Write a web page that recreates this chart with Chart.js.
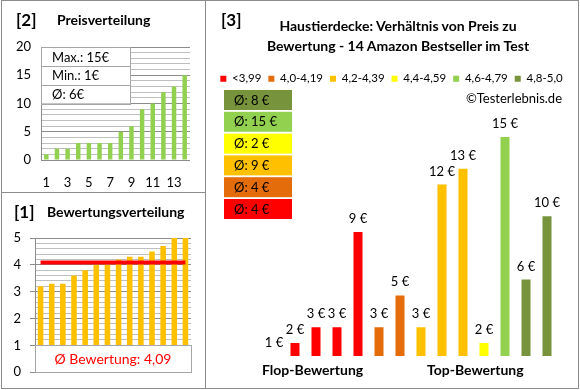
<!DOCTYPE html>
<html>
<head>
<meta charset="utf-8">
<script src="https://cdn.jsdelivr.net/npm/chart.js@4.4.0/dist/chart.umd.min.js"></script>
<style>
  body { margin: 0; background: #fff; font-family: Lato, sans-serif; }
  #wrap { position: relative; width: 580px; height: 390px; overflow: hidden; }
  canvas { position: absolute; }
  .linie { position: absolute; background: #8c8c8c; }
  .txt { position: absolute; white-space: nowrap; color: #000; }
  .fett { font-weight: bold; }
</style>
</head>
<body>
<div id="wrap">
  <canvas id="c2" width="205" height="192" style="left:0;top:0"></canvas>
  <canvas id="c1" width="205" height="196" style="left:0;top:193px"></canvas>
  <canvas id="c3" width="371" height="390" style="left:206px;top:0"></canvas>

  <!-- Rahmen -->
  <div class="linie" style="left:1px;top:0;width:578px;height:1px"></div>
  <div class="linie" style="left:1px;top:388px;width:578px;height:1px"></div>
  <div class="linie" style="left:1px;top:0;width:1px;height:389px"></div>
  <div class="linie" style="left:578px;top:0;width:1px;height:389px"></div>
  <div class="linie" style="left:205px;top:0;width:1px;height:389px"></div>
  <div class="linie" style="left:1px;top:192px;width:205px;height:1px"></div>

  <div class="txt fett" style="left:16px;top:8px;font-size:17px;line-height:24px">[2]</div>
  <div class="txt fett" style="left:57px;top:10px;font-size:14px;line-height:20px">Preisverteilung</div>
  <div class="txt fett" style="left:14px;top:200px;font-size:17px;line-height:24px">[1]</div>
  <div class="txt fett" style="left:47px;top:202px;font-size:14px;line-height:20px">Bewertungsverteilung</div>
  <div class="txt fett" style="left:221px;top:8px;font-size:17px;line-height:24px">[3]</div>
  <div class="txt fett" style="left:248px;top:16px;width:300px;text-align:center;font-size:14px;line-height:20px">Haustierdecke: Verhältnis von Preis zu<br>Bewertung - 14 Amazon Bestseller im Test</div>
  <div class="txt" style="right:18px;top:89px;font-size:13px;line-height:18px">©Testerlebnis.de</div>
  <div class="txt fett" style="left:262px;top:360px;font-size:14px;line-height:20px">Flop-Bewertung</div>
  <div class="txt fett" style="left:427px;top:360px;font-size:14px;line-height:20px">Top-Bewertung</div>
</div>

<script>
// Produkte nach Bewertung sortiert
const produkte = ['1', '2', '3', '4', '5', '6', '7', '8', '9', '10', '11', '12', '13', '14'];
const preise = [1, 2, 3, 3, 9, 3, 5, 3, 12, 13, 2, 15, 6, 10];
const bewertungen = [3.2, 3.3, 3.3, 3.6, 3.8, 4.0, 4.0, 4.2, 4.3, 4.3, 4.5, 4.7, 5.0, 5.0];

const klassen = ['<3,99', '4,0-4,19', '4,2-4,39', '4,4-4,59', '4,6-4,79', '4,8-5,0'];
const klassenGrenzen = [4.0, 4.2, 4.4, 4.6, 4.8];
const klassenFarben = ['#FF0000', '#E46C0A', '#FFC000', '#FFFF00', '#92D050', '#77933C'];

const schrift = 'Lato';

// Preise aufsteigend fuer [2]
const preiseSortiert = preise.slice().sort((a, b) => a - b);
const preisMax = Math.max(...preise);
const preisMin = Math.min(...preise);
const preisSchnitt = Math.round(preise.reduce((a, b) => a + b, 0) / preise.length);
const schnittBewertung = bewertungen.reduce((a, b) => a + b, 0) / bewertungen.length;

const klasseVon = bewertungen.map(b => klassenGrenzen.filter(g => b >= g - 1e-9).length);

// --- [2] Preisverteilung ---
const statBox = {
    id: 'statBox',
    afterDraw(chart) {
        const { ctx, chartArea, scales } = chart;
        const x0 = chartArea.left;
        const x1 = chartArea.left + (chartArea.right - chartArea.left) * 0.6;
        const y0 = scales.y.getPixelForValue(20);
        const y1 = scales.y.getPixelForValue(10);
        const zeilen = ['Max.: ' + preisMax + '€', 'Min.: ' + preisMin + '€', 'Ø: ' + preisSchnitt + '€'];
        const h = (y1 - y0) / zeilen.length;
        ctx.save();
        ctx.fillStyle = '#fff';
        ctx.fillRect(x0, y0, x1 - x0, y1 - y0);
        ctx.strokeStyle = '#a6a6a6';
        ctx.lineWidth = 1;
        ctx.font = '13px ' + schrift;
        ctx.textBaseline = 'middle';
        zeilen.forEach((z, i) => {
            ctx.strokeRect(Math.round(x0) + 0.5, Math.round(y0 + i * h) + 0.5, Math.round(x1 - x0), Math.round(h));
            ctx.fillStyle = '#000';
            ctx.fillText(z, x0 + 11, y0 + i * h + h / 2 + 1);
        });
        ctx.restore();
    }
};

new Chart(document.getElementById('c2'), {
    type: 'bar',
    data: {
        labels: produkte,
        datasets: [{ data: preiseSortiert, backgroundColor: '#92D050', barPercentage: 0.42, categoryPercentage: 1 }]
    },
    options: {
        responsive: false,
        animation: false,
        layout: { padding: { top: 47, right: 15, left: 0, bottom: 0 } },
        plugins: { legend: { display: false }, tooltip: { enabled: false } },
        scales: {
            x: {
                grid: { display: false, drawTicks: false },
                border: { display: false },
                ticks: {
                    color: '#000', font: { family: schrift, size: 13 }, padding: 15,
                    autoSkip: false, maxRotation: 0,
                    callback: (v, i) => i % 2 === 0 ? produkte[i] : ''
                },
                afterFit: s => { s.height = 32; }
            },
            y: {
                min: 0, max: 20,
                ticks: {
                    stepSize: 1, autoSkip: false, padding: 10,
                    color: '#000', font: { family: schrift, size: 13 },
                    callback: v => v % 5 === 0 ? v : ''
                },
                grid: {
                    drawTicks: false,
                    color: c => c.tick && c.tick.value % 5 === 0 ? '#8c8c8c' : '#bfbfbf'
                },
                border: { display: true, color: '#8c8c8c' },
                afterFit: s => { s.width = 41; }
            }
        }
    },
    plugins: [statBox]
});

// --- [1] Bewertungsverteilung ---
const schnittBox = {
    id: 'schnittBox',
    afterDatasetsDraw(chart) {
        const { ctx, chartArea, scales } = chart;
        const y0 = scales.y.getPixelForValue(1);
        const y1 = scales.y.getPixelForValue(0);
        ctx.save();
        ctx.fillStyle = '#fff';
        ctx.fillRect(chartArea.left, y0, chartArea.right - chartArea.left, y1 - y0);
        ctx.strokeStyle = '#a6a6a6';
        ctx.lineWidth = 1;
        ctx.strokeRect(Math.round(chartArea.left) + 0.5, Math.round(y0) + 0.5,
            Math.round(chartArea.right - chartArea.left), Math.round(y1 - y0));
        ctx.fillStyle = '#FF0000';
        ctx.font = '14px ' + schrift;
        ctx.textAlign = 'center';
        ctx.textBaseline = 'middle';
        ctx.fillText('Ø Bewertung: ' + schnittBewertung.toFixed(2).replace('.', ','),
            (chartArea.left + chartArea.right) / 2, (y0 + y1) / 2 + 1);
        ctx.restore();
    }
};

const ganzzahl = v => Math.abs(v - Math.round(v)) < 1e-6;

new Chart(document.getElementById('c1'), {
    type: 'bar',
    data: {
        labels: produkte,
        datasets: [
            { type: 'line', data: bewertungen.map(() => schnittBewertung), borderColor: '#FF0000', borderWidth: 4, pointRadius: 0, order: 0 },
            { data: bewertungen, backgroundColor: '#FFC000', barPercentage: 0.5, categoryPercentage: 1, order: 1 }
        ]
    },
    options: {
        responsive: false,
        animation: false,
        layout: { padding: { top: 45, right: 14, left: 0, bottom: 16 } },
        plugins: { legend: { display: false }, tooltip: { enabled: false } },
        scales: {
            x: { display: false },
            y: {
                min: 0, max: 5,
                ticks: {
                    stepSize: 0.2, autoSkip: false, padding: 9,
                    color: '#000', font: { family: schrift, size: 13 },
                    callback: v => ganzzahl(v) ? Math.round(v) : ''
                },
                grid: {
                    tickLength: 5,
                    color: c => c.tick && ganzzahl(c.tick.value) ? '#8c8c8c' : '#bfbfbf',
                    tickColor: c => c.tick && ganzzahl(c.tick.value) ? '#8c8c8c' : 'rgba(0,0,0,0)'
                },
                border: { display: true, color: '#8c8c8c' },
                afterFit: s => { s.width = 35; }
            }
        }
    },
    plugins: [schnittBox]
});

// --- [3] Preis zu Bewertung ---
const klassenSchnitt = klassen.map((k, i) => {
    const p = preise.filter((_, j) => klasseVon[j] === i);
    return Math.round(p.reduce((a, b) => a + b, 0) / p.length);
});

const preisLabels = {
    id: 'preisLabels',
    afterDatasetsDraw(chart) {
        const { ctx, chartArea } = chart;
        ctx.save();
        ctx.font = '13px ' + schrift;
        ctx.fillStyle = '#000';
        ctx.textAlign = 'center';
        ctx.textBaseline = 'alphabetic';
        chart.data.datasets.forEach((ds, i) => {
            chart.getDatasetMeta(i).data.forEach((bar, j) => {
                if (ds.data[j] == null) return;
                const y = Math.min(bar.y, chartArea.bottom);
                ctx.fillText(ds.data[j] + ' €', bar.x, y - 9);
            });
        });
        ctx.restore();
    }
};

const schnittKaesten = {
    id: 'schnittKaesten',
    afterDraw(chart) {
        const ctx = chart.ctx;
        ctx.save();
        ctx.font = '13px ' + schrift;
        ctx.textBaseline = 'middle';
        // oben dunkelgruen, unten rot
        for (let r = 0; r < klassen.length; r++) {
            const k = klassen.length - 1 - r;
            const top = 90 + r * 21.8;
            ctx.fillStyle = klassenFarben[k];
            ctx.fillRect(18, top, 68, 20);
            ctx.fillStyle = '#000';
            ctx.fillText('Ø: ' + klassenSchnitt[k] + ' €', 28, top + 10.5);
        }
        ctx.restore();
    }
};

new Chart(document.getElementById('c3'), {
    type: 'bar',
    data: {
        labels: produkte,
        datasets: klassen.map((k, i) => ({
            label: k,
            data: preise.map((p, j) => klasseVon[j] === i ? p : null),
            backgroundColor: klassenFarben[i],
            borderWidth: 0,
            barPercentage: 0.43,
            categoryPercentage: 1
        }))
    },
    options: {
        responsive: false,
        animation: false,
        layout: { padding: { top: 66, right: 0, left: 0, bottom: 34 } },
        plugins: {
            tooltip: { enabled: false },
            legend: {
                position: 'top',
                labels: {
                    boxWidth: 6, boxHeight: 6, padding: 7,
                    color: '#000', font: { family: schrift, size: 11.5 }
                }
            }
        },
        scales: {
            x: { stacked: true, display: false },
            y: {
                stacked: true, min: 1.18, max: 17.68,
                ticks: { display: false }, grid: { display: false }, border: { display: false },
                afterFit: s => { s.width = 57.5; }
            },
            yRechts: {
                position: 'right',
                ticks: { display: false }, grid: { display: false }, border: { display: false },
                afterFit: s => { s.width = 19.5; }
            }
        }
    },
    plugins: [preisLabels, schnittKaesten]
});
</script>
</body>
</html>
